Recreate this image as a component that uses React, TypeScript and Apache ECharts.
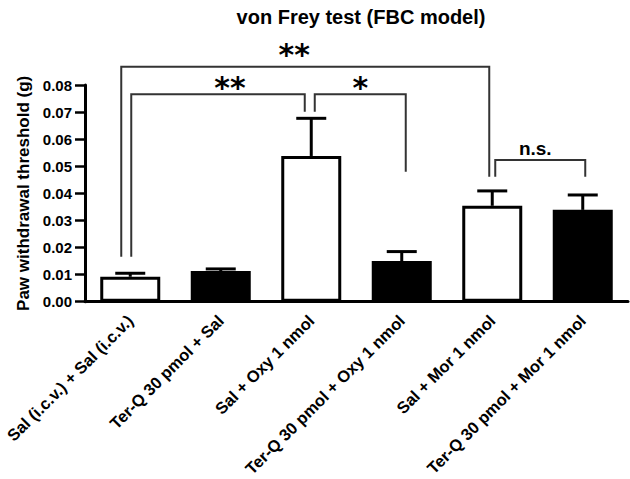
import React, { useEffect, useRef } from "react";
import * as echarts from "echarts";

const titleText = "von Frey test (FBC model)";
const yAxisName = "Paw withdrawal threshold (g)";
const categories = [
  "Sal (i.c.v.) + Sal (i.c.v.)",
  "Ter-Q 30 pmol + Sal",
  "Sal + Oxy 1 nmol",
  "Ter-Q 30 pmol + Oxy 1 nmol",
  "Sal + Mor 1 nmol",
  "Ter-Q 30 pmol + Mor 1 nmol",
];
const means = [0.0092, 0.0113, 0.0538, 0.015, 0.0354, 0.0339];
const sems = [0.0013, 0.0008, 0.0139, 0.0035, 0.0055, 0.0055];
const fills = ["#ffffff", "#000000", "#ffffff", "#000000", "#ffffff", "#000000"];
const yMin = 0;
const yMax = 0.08;
const yStep = 0.01;

// [fromIndex, toIndex, topValue, fromEndValue, toEndValue]
const bracketSpans = [
  [0, 4, 0.0867, 0.0166, 0.0461],
  [0, 2, 0.0766, 0.0166, 0.0701],
  [2, 3, 0.0766, 0.0701, 0.048],
  [4, 5, 0.0523, 0.0461, 0.0461],
];
const bracketLabels = ["**", "**", "*", "n.s."];

// pixel layout tweaks: [fromDx, toDx, labelDx, labelGap, fontSize]
const bracketLayout = [
  [-9, -3, -11, -3, 30],
  [1, -6.5, 12, -8, 30],
  [3.5, 4, 0, -8, 30],
  [3, 2.5, -5, 2, 19],
];

const FONT = '"Liberation Sans", Arial, sans-serif';

export default function App() {
  const ref = useRef<HTMLDivElement>(null);
  useEffect(() => {
    document.body.style.margin = "0";
    if (!ref.current) return;
    const chart = echarts.init(ref.current, null, { renderer: "svg" });
    const option: any = {
      animation: false,
      backgroundColor: "#ffffff",
      title: {
        text: titleText,
        left: 356,
        top: 2,
        textAlign: "center",
        textStyle: { fontFamily: FONT, fontWeight: "bold", fontSize: 20, color: "#000" },
      },
      grid: { left: 85, right: 2, top: 85, bottom: 177.3, outerBoundsMode: "none", containLabel: false },
      xAxis: {
        type: "category",
        data: categories,
        axisLine: { lineStyle: { color: "#000", width: 3 } },
        axisTick: { show: false },
        axisLabel: {
          interval: 0,
          rotate: 45,
          margin: 16,
          color: "#000",
          fontFamily: FONT,
          fontWeight: "bold",
          fontSize: 16.5,
        },
      },
      yAxis: {
        type: "value",
        min: yMin,
        max: yMax,
        interval: yStep,
        name: yAxisName,
        nameLocation: "middle",
        nameGap: 47,
        nameRotate: 90,
        nameTextStyle: { fontFamily: FONT, fontWeight: "bold", fontSize: 17, color: "#000" },
        axisLine: { show: true, lineStyle: { color: "#000", width: 3 } },
        axisTick: { show: true, length: 10, lineStyle: { color: "#000", width: 2.5 } },
        splitLine: { show: false },
        axisLabel: {
          margin: 13,
          color: "#000",
          fontFamily: FONT,
          fontWeight: "bold",
          fontSize: 15,
          formatter: (v: number) => v.toFixed(2),
        },
      },
      series: [
        {
          type: "bar",
          barWidth: 60,
          data: means.map((v, i) => ({
            value: v,
            itemStyle: { color: fills[i], borderColor: "#000", borderWidth: 3 },
          })),
          z: 2,
        },
        {
          type: "custom",
          data: means.map((v, i) => [i, v, sems[i]]),
          encode: { x: 0, y: 1 },
          z: 3,
          renderItem: (params: any, api: any) => {
            const i = api.value(0);
            const v = api.value(1);
            const e = api.value(2);
            const base = api.coord([i, v]);
            const top = api.coord([i, v + e]);
            const half = 15;
            return {
              type: "group",
              children: [
                {
                  type: "line",
                  shape: { x1: base[0], y1: base[1], x2: top[0], y2: top[1] },
                  style: { stroke: "#000", lineWidth: 3 },
                },
                {
                  type: "line",
                  shape: { x1: top[0] - half, y1: top[1], x2: top[0] + half, y2: top[1] },
                  style: { stroke: "#000", lineWidth: 3 },
                },
              ],
            };
          },
        },
        {
          type: "custom",
          data: bracketSpans.map((b) => [b[0], b[2]]),
          encode: { x: 0, y: 1 },
          z: 4,
          renderItem: (params: any, api: any) => {
            const idx = params.dataIndex;
            const [f, t, topV, fe, te] = bracketSpans[idx];
            const lay = bracketLayout[idx];
            const p1 = api.coord([f, topV]);
            const p2 = api.coord([t, topV]);
            const x1 = p1[0] + lay[0];
            const x2 = p2[0] + lay[1];
            const yTop = p1[1];
            const y1 = api.coord([f, fe])[1];
            const y2 = api.coord([t, te])[1];
            const isStar = bracketLabels[idx].indexOf("*") >= 0;
            return {
              type: "group",
              children: [
                {
                  type: "polyline",
                  shape: { points: [[x1, y1], [x1, yTop], [x2, yTop], [x2, y2]] },
                  style: { stroke: "#333", lineWidth: 2, fill: null },
                },
                {
                  type: "text",
                  x: (x1 + x2) / 2 + lay[2],
                  y: yTop - lay[3],
                  style: {
                    text: bracketLabels[idx],
                    fill: "#000",
                    fontFamily: isStar ? '"DejaVu Sans", sans-serif' : FONT,
                    fontWeight: "bold",
                    fontSize: lay[4],
                    align: "center",
                    verticalAlign: "bottom",
                  },
                },
              ],
            };
          },
        },
      ],
    };
    chart.setOption(option);
    return () => chart.dispose();
  }, []);
  return <div ref={ref} style={{ width: 630, height: 479 }} />;
}
